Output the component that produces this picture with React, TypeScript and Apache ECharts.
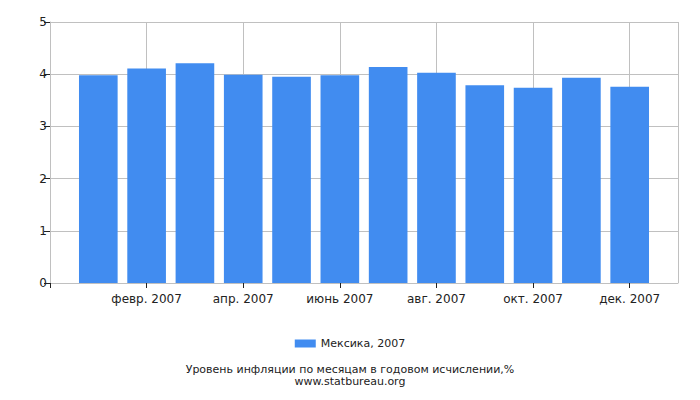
import { useEffect, useRef } from 'react';
import * as echarts from 'echarts';

// padded with an empty slot at each end: bars sit on the category points
const months = [
  '',
  'янв. 2007',
  'февр. 2007',
  'март 2007',
  'апр. 2007',
  'май 2007',
  'июнь 2007',
  'июль 2007',
  'авг. 2007',
  'сент. 2007',
  'окт. 2007',
  'нояб. 2007',
  'дек. 2007',
  '',
];
const inflation = [null, 3.98, 4.11, 4.21, 3.99, 3.95, 3.98, 4.14, 4.03, 3.79, 3.74, 3.93, 3.76, null];
const seriesName = 'Мексика, 2007';
const chartTitle = 'Уровень инфляции по месяцам в годовом исчислении,%';
const chartSource = 'www.statbureau.org';

const FONT = '"DejaVu Sans", Verdana, sans-serif';
const evenMonth = (i: number) => i > 0 && i < 13 && i % 2 === 0;

export default function App() {
  const ref = useRef<HTMLDivElement>(null);

  useEffect(() => {
    const dom = ref.current;
    if (!dom) return;
    const chart = echarts.init(dom, undefined, { renderer: 'svg' });

    chart.setOption({
      animation: false,
      textStyle: { fontFamily: FONT },
      title: {
        text: `${chartTitle}\n${chartSource}`,
        left: 'center',
        top: 358,
        textStyle: { fontSize: 11, fontWeight: 'normal', color: '#222', lineHeight: 12, fontFamily: FONT },
      },
      legend: {
        data: [seriesName],
        top: 333,
        left: 'center',
        icon: 'rect',
        itemWidth: 21,
        itemHeight: 8,
        itemGap: 5,
        textStyle: { fontSize: 11, color: '#222', fontFamily: FONT },
      },
      grid: { left: 50, top: 22, right: 22, bottom: 117 },
      xAxis: {
        type: 'category',
        data: months,
        boundaryGap: false,
        axisLine: { lineStyle: { color: '#c0c0c0' } },
        axisTick: { interval: (i: number) => i === 0 || evenMonth(i), length: 5, lineStyle: { color: '#222' } },
        axisLabel: {
          interval: (i: number) => evenMonth(i),
          fontSize: 12,
          color: '#222',
          margin: 10,
          fontFamily: FONT,
        },
        splitLine: {
          show: true,
          interval: (i: number) => evenMonth(i) || i === 13,
          lineStyle: { color: '#c0c0c0' },
        },
      },
      yAxis: {
        type: 'value',
        min: 0,
        max: 5,
        interval: 1,
        axisLine: { show: true, lineStyle: { color: '#c0c0c0' } },
        axisTick: { show: true, length: 6, lineStyle: { color: '#222' } },
        axisLabel: { fontSize: 12, color: '#222', margin: 3, fontFamily: FONT },
        splitLine: { lineStyle: { color: '#c0c0c0' } },
      },
      series: [
        {
          type: 'bar',
          name: seriesName,
          data: inflation,
          barWidth: '80%',
          itemStyle: { color: '#418cf0' },
        },
      ],
    } as echarts.EChartsOption);

    return () => chart.dispose();
  }, []);

  return <div ref={ref} style={{ position: 'absolute', left: 0, top: 0, width: 700, height: 400 }} />;
}
